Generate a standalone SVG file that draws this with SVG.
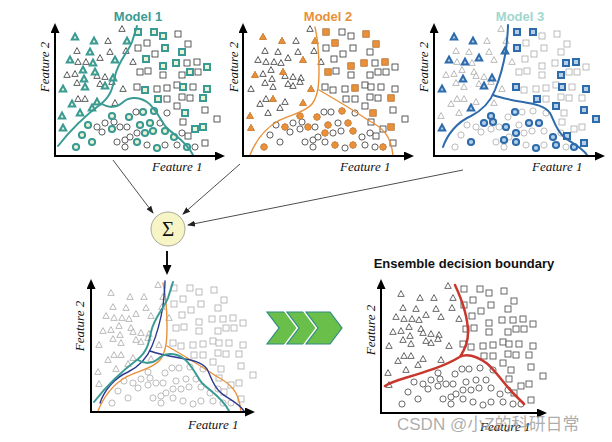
<svg xmlns="http://www.w3.org/2000/svg" xmlns:xlink="http://www.w3.org/1999/xlink" width="612" height="442" viewBox="0 0 612 442">
<style>
.ax{stroke:#000;stroke-width:2;fill:none}
.f1{font-family:"Liberation Serif",serif;font-style:italic;font-size:13px;fill:#111}
.ttl{font-family:"Liberation Sans",Arial,sans-serif;font-weight:bold;font-size:13px;text-anchor:middle}
.h1{fill:#eef3d6;stroke:#3a9b94;stroke-width:2}
.h2{fill:#e8913a;stroke:#e08530;stroke-width:1}
.h3{fill:#b5cfe9;stroke:#2e6bab;stroke-width:2}
.cv{fill:none;stroke-linecap:round}
.con{stroke:#222;stroke-width:0.8;fill:none}
.chw{fill:none;stroke:#fff;stroke-width:4}
.chv{fill:#6abf4b;stroke:#2e8b84;stroke-width:1.2}
</style>
<defs>
<marker id="ah" markerUnits="userSpaceOnUse" markerWidth="10" markerHeight="9" refX="1" refY="4.5" orient="auto"><path d="M0,0 L10,4.5 L0,9 z" fill="#000"/></marker>
<marker id="sa" markerUnits="userSpaceOnUse" markerWidth="8" markerHeight="6" refX="7" refY="3" orient="auto"><path d="M0,0 L8,3 L0,6 z" fill="#222"/></marker>
<path id="t" d="M0,-3.4 L3.2,2.4 L-3.2,2.4Z"/>
<rect id="s" x="-3" y="-3" width="6" height="6"/>
<circle id="c" r="3.1"/>
<path id="chev" d="M0,0 L24,0 L36,16 L24,32 L0,32 L12,16Z"/>
<g id="pts">
<use href="#t" x="122" y="29"/><use href="#t" x="75" y="37"/><use href="#t" x="94" y="41"/><use href="#t" x="108" y="41"/><use href="#t" x="127" y="41"/><use href="#t" x="77" y="51"/><use href="#t" x="90" y="52"/><use href="#t" x="110" y="52"/><use href="#t" x="126" y="51"/><use href="#t" x="100" y="58"/><use href="#t" x="70" y="60"/><use href="#t" x="78" y="62"/><use href="#t" x="86" y="62"/><use href="#t" x="93" y="63"/><use href="#t" x="115" y="60"/><use href="#t" x="133" y="62"/><use href="#t" x="83" y="70"/><use href="#t" x="95" y="72"/><use href="#t" x="67" y="75"/><use href="#t" x="75" y="74"/><use href="#t" x="105" y="77"/><use href="#t" x="113" y="78"/><use href="#t" x="84" y="79"/><use href="#t" x="97" y="76"/><use href="#t" x="77" y="83"/><use href="#t" x="100" y="84"/><use href="#t" x="112" y="82"/><use href="#t" x="105" y="86"/><use href="#t" x="63" y="89"/><use href="#t" x="85" y="87"/><use href="#t" x="123" y="89"/><use href="#t" x="78" y="99"/><use href="#t" x="85" y="99"/><use href="#t" x="72" y="104"/><use href="#t" x="97" y="102"/><use href="#t" x="115" y="103"/><use href="#t" x="92" y="108"/><use href="#t" x="80" y="113"/><use href="#t" x="62" y="116"/><use href="#t" x="63" y="128"/>
<use href="#s" x="138" y="32"/><use href="#s" x="154" y="32"/><use href="#s" x="163" y="36"/><use href="#s" x="178" y="34"/><use href="#s" x="147" y="43"/><use href="#s" x="165" y="48"/><use href="#s" x="188" y="44"/><use href="#s" x="138" y="48"/><use href="#s" x="182" y="52"/><use href="#s" x="155" y="54"/><use href="#s" x="146" y="59"/><use href="#s" x="163" y="66"/><use href="#s" x="176" y="63"/><use href="#s" x="187" y="63"/><use href="#s" x="197" y="62"/><use href="#s" x="207" y="67"/><use href="#s" x="140" y="72"/><use href="#s" x="148" y="71"/><use href="#s" x="163" y="75"/><use href="#s" x="182" y="75"/><use href="#s" x="190" y="72"/><use href="#s" x="198" y="72"/><use href="#s" x="137" y="87"/><use href="#s" x="145" y="90"/><use href="#s" x="157" y="89"/><use href="#s" x="167" y="88"/><use href="#s" x="177" y="85"/><use href="#s" x="183" y="87"/><use href="#s" x="193" y="87"/><use href="#s" x="207" y="89"/><use href="#s" x="158" y="99"/><use href="#s" x="167" y="99"/><use href="#s" x="182" y="97"/><use href="#s" x="190" y="98"/><use href="#s" x="203" y="98"/><use href="#s" x="177" y="106"/><use href="#s" x="185" y="113"/><use href="#s" x="205" y="110"/><use href="#s" x="183" y="122"/><use href="#s" x="195" y="129"/><use href="#s" x="203" y="127"/><use href="#s" x="217" y="119"/><use href="#s" x="188" y="136"/><use href="#s" x="205" y="143"/>
<use href="#c" x="112" y="116"/><use href="#c" x="129" y="117"/><use href="#c" x="136" y="112"/><use href="#c" x="143" y="112"/><use href="#c" x="154" y="111"/><use href="#c" x="167" y="113"/><use href="#c" x="105" y="123"/><use href="#c" x="114" y="122"/><use href="#c" x="88" y="125"/><use href="#c" x="97" y="127"/><use href="#c" x="120" y="127"/><use href="#c" x="127" y="127"/><use href="#c" x="140" y="125"/><use href="#c" x="150" y="123"/><use href="#c" x="160" y="123"/><use href="#c" x="112" y="129"/><use href="#c" x="137" y="133"/><use href="#c" x="145" y="133"/><use href="#c" x="153" y="131"/><use href="#c" x="165" y="131"/><use href="#c" x="82" y="135"/><use href="#c" x="92" y="142"/><use href="#c" x="76" y="147"/><use href="#c" x="117" y="142"/><use href="#c" x="125" y="140"/><use href="#c" x="137" y="142"/><use href="#c" x="147" y="145"/><use href="#c" x="157" y="148"/><use href="#c" x="165" y="145"/><use href="#c" x="177" y="145"/><use href="#c" x="174" y="137"/><use href="#c" x="187" y="147"/><use href="#c" x="195" y="147"/><use href="#c" x="182" y="133"/><use href="#c" x="125" y="147"/><use href="#c" x="130" y="137"/><use href="#c" x="102" y="132"/>
</g>
<path id="cv1" d="M58,146 C72,128 90,112 102,103 C112,95 113,85 115,76 C118,62 128,52 132,42 L137,26 M102,104 C108,108 116,108 122,103 C128,97 138,96 147,102 C156,108 160,120 166,127 C174,135 186,141 193,155"/>
<path id="cv2" d="M62,155 C68,140 78,128 90,121 C102,115 118,112 124,104 C131,95 131,80 131,70 C131,55 130,40 127,27 M131,90 C145,98 165,110 180,120 C195,128 203,135 205,156"/>
<path id="cv3" d="M64,147 C68,135 78,122 92,116 C104,110 112,100 116,90 C121,78 125,62 127,50 C128,40 129,32 129,25 M114,95 C122,98 132,100 144,102 C156,104 166,106 171,113 C175,120 176,128 184,136 C190,142 202,146 208,155"/>
</defs>

<g id="panel-model1">
<use href="#pts" fill="#fff" stroke="#333" stroke-width="0.8"/>
<g class="h1">
<use href="#t" x="75" y="37"/><use href="#t" x="94" y="41"/><use href="#t" x="127" y="41"/><use href="#t" x="90" y="52"/><use href="#t" x="70" y="60"/><use href="#t" x="93" y="63"/><use href="#t" x="115" y="60"/><use href="#t" x="83" y="70"/><use href="#t" x="95" y="72"/><use href="#t" x="113" y="78"/><use href="#t" x="84" y="79"/><use href="#t" x="105" y="86"/><use href="#t" x="63" y="89"/><use href="#t" x="85" y="87"/><use href="#t" x="72" y="104"/><use href="#t" x="97" y="102"/><use href="#t" x="92" y="108"/><use href="#t" x="80" y="113"/><use href="#t" x="62" y="116"/><use href="#t" x="63" y="128"/>
<use href="#s" x="138" y="32"/><use href="#s" x="154" y="32"/><use href="#s" x="163" y="36"/><use href="#s" x="165" y="48"/><use href="#s" x="182" y="52"/><use href="#s" x="146" y="59"/><use href="#s" x="163" y="66"/><use href="#s" x="176" y="63"/><use href="#s" x="207" y="67"/><use href="#s" x="190" y="72"/><use href="#s" x="145" y="90"/><use href="#s" x="183" y="87"/><use href="#s" x="207" y="89"/><use href="#s" x="158" y="99"/><use href="#s" x="203" y="98"/><use href="#s" x="185" y="113"/><use href="#s" x="195" y="129"/><use href="#s" x="203" y="127"/>
<use href="#c" x="112" y="116"/><use href="#c" x="129" y="117"/><use href="#c" x="143" y="112"/><use href="#c" x="154" y="111"/><use href="#c" x="88" y="125"/><use href="#c" x="140" y="125"/><use href="#c" x="150" y="123"/><use href="#c" x="112" y="129"/><use href="#c" x="145" y="133"/><use href="#c" x="153" y="131"/><use href="#c" x="165" y="131"/><use href="#c" x="82" y="135"/><use href="#c" x="92" y="142"/><use href="#c" x="76" y="147"/><use href="#c" x="137" y="142"/><use href="#c" x="157" y="148"/><use href="#c" x="174" y="137"/><use href="#c" x="187" y="147"/>
</g>
<use href="#cv1" class="cv" stroke="#3a9b94" stroke-width="2"/>
<line class="ax" x1="55" y1="157" x2="55" y2="32" marker-end="url(#ah)"/>
<line class="ax" x1="54" y1="156" x2="216" y2="156" marker-end="url(#ah)"/>
<text class="ttl" x="138" y="21" fill="#3a9b94">Model 1</text>
<text class="f1" x="152" y="171">Feature 1</text>
<text class="f1" transform="translate(49,67) rotate(-90)" text-anchor="middle">Feature 2</text>
</g>

<g id="panel-model2">
<g transform="translate(188,0)">
<use href="#pts" fill="#fff" stroke="#333" stroke-width="0.8"/>
<g class="h2">
<use href="#t" x="75" y="37"/><use href="#t" x="94" y="41"/><use href="#t" x="127" y="41"/><use href="#t" x="115" y="60"/><use href="#t" x="67" y="75"/><use href="#t" x="95" y="72"/><use href="#t" x="123" y="89"/><use href="#t" x="85" y="99"/><use href="#t" x="115" y="103"/><use href="#t" x="62" y="116"/><use href="#t" x="63" y="128"/>
<use href="#s" x="138" y="32"/><use href="#s" x="147" y="43"/><use href="#s" x="178" y="34"/><use href="#s" x="188" y="44"/><use href="#s" x="197" y="62"/><use href="#s" x="176" y="63"/><use href="#s" x="163" y="66"/><use href="#s" x="140" y="72"/><use href="#s" x="167" y="88"/><use href="#s" x="203" y="98"/><use href="#s" x="185" y="113"/><use href="#s" x="203" y="127"/>
<use href="#c" x="112" y="116"/><use href="#c" x="129" y="117"/><use href="#c" x="154" y="111"/><use href="#c" x="97" y="127"/><use href="#c" x="120" y="127"/><use href="#c" x="140" y="125"/><use href="#c" x="137" y="133"/><use href="#c" x="165" y="131"/><use href="#c" x="160" y="123"/><use href="#c" x="76" y="147"/><use href="#c" x="147" y="145"/><use href="#c" x="165" y="145"/><use href="#c" x="195" y="147"/>
</g>
<use href="#cv2" class="cv" stroke="#e8913a" stroke-width="1.4"/>
</g>
<line class="ax" x1="243" y1="157" x2="243" y2="32" marker-end="url(#ah)"/>
<line class="ax" x1="242" y1="156" x2="405" y2="156" marker-end="url(#ah)"/>
<text class="ttl" x="328" y="21" fill="#e8913a">Model 2</text>
<text class="f1" x="340" y="171">Feature 1</text>
<text class="f1" transform="translate(238,67) rotate(-90)" text-anchor="middle">Feature 2</text>
</g>

<g id="panel-model3">
<g transform="translate(379,0)">
<use href="#pts" fill="#fff" stroke="#aaa" stroke-width="0.8"/>
<g class="h3">
<use href="#t" x="75" y="37"/><use href="#t" x="94" y="41"/><use href="#t" x="126" y="51"/><use href="#t" x="70" y="60"/><use href="#t" x="86" y="62"/><use href="#t" x="100" y="58"/><use href="#t" x="113" y="78"/><use href="#t" x="84" y="79"/><use href="#t" x="105" y="86"/><use href="#t" x="63" y="89"/><use href="#t" x="92" y="108"/><use href="#t" x="63" y="128"/>
<use href="#s" x="138" y="32"/><use href="#s" x="154" y="32"/><use href="#s" x="138" y="48"/><use href="#s" x="197" y="62"/><use href="#s" x="187" y="63"/><use href="#s" x="182" y="75"/><use href="#s" x="183" y="87"/><use href="#s" x="137" y="87"/><use href="#s" x="158" y="99"/><use href="#s" x="207" y="89"/><use href="#s" x="177" y="106"/><use href="#s" x="205" y="110"/><use href="#s" x="217" y="119"/><use href="#s" x="188" y="136"/><use href="#s" x="205" y="143"/>
<use href="#c" x="112" y="116"/><use href="#c" x="136" y="112"/><use href="#c" x="150" y="123"/><use href="#c" x="105" y="123"/><use href="#c" x="114" y="122"/><use href="#c" x="127" y="127"/><use href="#c" x="92" y="142"/><use href="#c" x="125" y="140"/><use href="#c" x="137" y="142"/><use href="#c" x="137" y="133"/><use href="#c" x="157" y="148"/><use href="#c" x="174" y="137"/><use href="#c" x="177" y="145"/><use href="#c" x="195" y="147"/><use href="#c" x="160" y="123"/>
</g>
<use href="#cv3" class="cv" stroke="#2e6bab" stroke-width="2"/>
</g>
<line class="ax" x1="434" y1="157" x2="434" y2="32" marker-end="url(#ah)"/>
<line class="ax" x1="433" y1="156" x2="596" y2="156" marker-end="url(#ah)"/>
<text class="ttl" x="520" y="21" fill="#9fd6d0">Model 3</text>
<text class="f1" x="532" y="171">Feature 1</text>
<text class="f1" transform="translate(428,67) rotate(-90)" text-anchor="middle">Feature 2</text>
</g>

<g id="sigma">
<circle cx="168" cy="229" r="17" fill="#f7f4c6" stroke="#a8a898" stroke-width="1"/>
<text x="168" y="236" text-anchor="middle" font-family="Liberation Serif,serif" font-size="21" fill="#111">Σ</text>
</g>

<g id="connectors">
<line class="con" x1="113" y1="160" x2="153" y2="213" marker-end="url(#sa)"/>
<line class="con" x1="240" y1="164" x2="183" y2="214" marker-end="url(#sa)"/>
<line class="con" x1="463" y1="170" x2="188" y2="225" marker-end="url(#sa)"/>
<line x1="167" y1="251" x2="167" y2="266" stroke="#111" stroke-width="2" marker-end="url(#ah)"/>
</g>

<g id="combined">
<g transform="translate(36,256)">
<use href="#pts" fill="#fff" stroke="#aaa" stroke-width="0.8"/>
<use href="#cv2" class="cv" stroke="#e8913a" stroke-width="1.4"/>
<use href="#cv3" class="cv" stroke="#2b3990" stroke-width="1.4"/>
<use href="#cv1" class="cv" stroke="#3a9b94" stroke-width="2"/>
</g>
<line class="ax" x1="91" y1="413" x2="91" y2="288" marker-end="url(#ah)"/>
<line class="ax" x1="90" y1="412" x2="246" y2="412" marker-end="url(#ah)"/>
<text class="f1" x="188" y="429">Feature 1</text>
<text class="f1" transform="translate(84,326) rotate(-90)" text-anchor="middle">Feature 2</text>
</g>

<g id="chevrons">
<use href="#chev" x="267" y="312" class="chw"/><use href="#chev" x="267" y="312" class="chv"/>
<use href="#chev" x="287" y="312" class="chw"/><use href="#chev" x="287" y="312" class="chv"/>
<use href="#chev" x="306" y="312" class="chw"/><use href="#chev" x="306" y="312" class="chv"/>
</g>

<g id="ensemble">
<text x="464" y="268" class="ttl" fill="#111">Ensemble decision boundary</text>
<g transform="translate(326,257)">
<use href="#pts" fill="#fff" stroke="#444" stroke-width="0.8"/>
</g>
<path d="M455,285 C462,300 468,318 468,333 C468,345 463,352 460,356.7 C445,366 425,372 405,378 C395,381 388,384 385,386 M460,356.7 C466,354 475,355 486.7,363.3 C495,370 505,385 513,393 C518,398 522,402 524,404" fill="none" stroke="#c8372d" stroke-width="2.5" stroke-linecap="round"/>
<line class="ax" x1="381" y1="414" x2="381" y2="288" marker-end="url(#ah)"/>
<line class="ax" x1="380" y1="413" x2="538" y2="413" marker-end="url(#ah)"/>
<text class="f1" x="480" y="431">Feature 1</text>
<text class="f1" transform="translate(375,330) rotate(-90)" text-anchor="middle">Feature 2</text>
<text x="397" y="430" font-family="Liberation Sans,Noto Sans CJK SC,sans-serif" font-size="17" fill="#888" fill-opacity="0.7">CSDN @小Z的科研日常</text>
</g>
</svg>
